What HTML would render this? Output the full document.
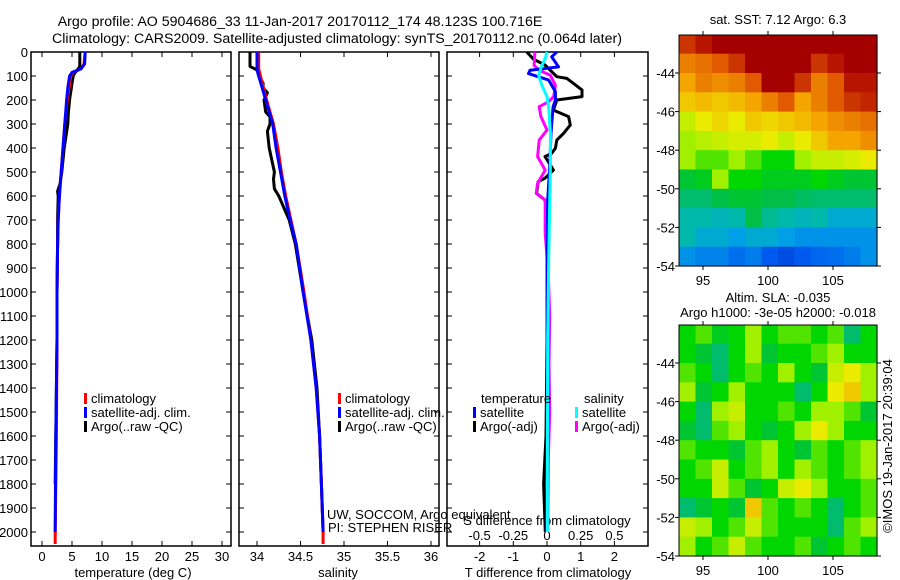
<!DOCTYPE html>
<html><head><meta charset="utf-8">
<style>
html,body{margin:0;padding:0;background:#fff;}
svg{display:block;font-family:"Liberation Sans",sans-serif;}
text{font-size:13px;fill:#000;}
.tt{font-size:14.2px;}
</style></head>
<body>
<svg id="fig" width="900" height="580" viewBox="0 0 900 580" xmlns="http://www.w3.org/2000/svg">
<text class="tt" x="300" y="26" text-anchor="middle">Argo profile: AO 5904686_33 11-Jan-2017 20170112_174 48.123S 100.716E</text>
<text class="tt" x="337" y="43" text-anchor="middle">Climatology: CARS2009. Satellite-adjusted climatology: synTS_20170112.nc (0.064d later)</text>
<g id="g"></g>
</svg>
<script>
// ---------- data ----------
const depthTicks=[0,100,200,300,400,500,600,700,800,900,1000,1100,1200,1300,1400,1500,1600,1700,1800,1900,2000];
const tempTicks=[0,5,10,15,20,25,30];
const salTicks=[34,34.5,35,35.5,36];
const tdiffTicks=[-2,-1,0,1,2];
const sdiffTicks=[-0.5,-0.25,0,0.25,0.5];
const sdiffLabels=["-0.5","-0.25","0","0.25","0.5"];

const tDepth=[0,50,70,85,100,150,200,300,400,500,600,700,800,1000,1200,1400,1600,1800,2000,2050];
const tClim=[7.2,7.0,6.5,5.2,4.8,4.5,4.2,3.8,3.5,3.2,2.9,2.7,2.6,2.5,2.5,2.45,2.4,2.3,2.2,2.2];
const tSat=[7.2,7.1,6.5,5.0,4.6,4.3,4.1,3.8,3.5,3.2,2.9,2.7,2.6,2.5,2.5,2.4,2.3,2.25,2.2,2.2];
const tArgoDepth=[0,60,75,90,100,130,150,180,200,250,300,350,400,450,500,550,580,600,700,800,1000,1200,1400,1600,1800,2000];
const tArgo=[6.3,6.3,5.9,5.4,5.2,5.0,4.9,4.7,4.6,4.4,4.3,4.0,3.7,3.5,3.3,3.0,2.6,2.7,2.6,2.6,2.5,2.5,2.4,2.3,2.2,2.2];

const sDepth=[0,70,100,200,300,400,500,600,700,800,1000,1200,1400,1600,1800,2000,2050];
const sClim=[34.02,34.02,34.04,34.11,34.19,34.24,34.28,34.33,34.39,34.45,34.54,34.62,34.68,34.72,34.74,34.76,34.76];
const sSat=[34.0,34.0,34.02,34.1,34.18,34.22,34.27,34.32,34.38,34.45,34.53,34.62,34.68,34.72,34.74,34.76,34.76];
const sArgoDepth=[0,60,75,100,130,150,170,200,250,270,300,330,400,450,500,530,570,600,650,700,800,1000,1200,1400,1600,1800,2000];
const sArgo=[33.92,33.92,34.0,34.02,34.07,34.07,34.12,34.08,34.1,34.15,34.15,34.12,34.14,34.17,34.2,34.19,34.2,34.25,34.31,34.37,34.44,34.53,34.63,34.69,34.72,34.74,34.76];

const dTSatDepth=[0,20,62,76,90,117,165,200,228,339,478,617,894,1200,1600,2000];
const dTSat=[0.29,0.14,0.34,-0.5,-0.55,0.05,0.25,0.25,0.18,0.12,0.08,0.02,0,0,0,-0.02];
const dTArgoDepth=[0,30,54,103,110,158,186,200,242,269,304,339,367,401,422,436,492,526,540,589,617,672,756,894,1200,1600,1800,2000];
const dTArgo=[-0.6,-0.4,-0.06,0.29,0.59,1.04,1.04,0.29,0.19,0.64,0.69,0.49,0.29,0.25,0.14,-0.06,0.19,-0.06,-0.26,-0.31,-0.06,0,0,0.02,0,-0.03,-0.1,-0.05];
const dSSatDepth=[0,28,56,97,139,186,228,339,478,617,894,1200,1600,2000];
const dSSat=[0,-0.013,-0.038,-0.062,-0.038,0,0.012,0.025,0.025,0.02,0.012,0.005,0.003,0.003];
const dSArgoDepth=[0,56,76,97,139,186,207,228,269,325,367,436,492,547,589,617,672,756,922,1100,1300,1500,1700,2000];
const dSArgo=[-0.09,-0.096,-0.058,0.025,0.062,0.05,0.012,-0.058,-0.045,0,-0.058,-0.07,-0.013,-0.07,-0.08,-0.013,-0.013,-0.013,0.01,0.02,0.015,0.02,0.01,0.005];

const lonTicks=[95,100,105];
const latTicks=[-44,-46,-48,-50,-52,-54];
const sstGrid=[
[.9,.95,1,1,1,1,1,1,1,1,1,1],
[.8,.82,.85,.9,1,1,1,1,.9,.95,1,1],
[.75,.8,.78,.8,.85,1,1,.9,.8,.85,.95,.95],
[.7,.72,.7,.72,.75,.8,.85,.75,.8,.85,.9,.92],
[.6,.65,.68,.65,.7,.68,.7,.72,.75,.78,.8,.82],
[.55,.58,.6,.62,.62,.65,.6,.65,.7,.75,.75,.78],
[.55,.5,.5,.55,.5,.45,.45,.55,.6,.6,.62,.65],
[.4,.42,.55,.45,.45,.42,.42,.42,.45,.42,.4,.4],
[.35,.35,.38,.4,.4,.38,.38,.36,.35,.35,.35,.35],
[.3,.3,.28,.3,.38,.32,.3,.28,.3,.25,.25,.25],
[.3,.25,.25,.22,.25,.25,.22,.2,.2,.2,.2,.2],
[.2,.18,.18,.15,.17,.12,.1,.12,.14,.15,.17,.2]];
const slaGrid=[
[.45,.5,.42,.45,.55,.45,.5,.5,.45,.5,.35,.45],
[.45,.4,.35,.45,.55,.4,.45,.45,.5,.55,.45,.45],
[.5,.45,.35,.45,.5,.45,.55,.45,.4,.6,.65,.55],
[.55,.4,.45,.55,.45,.45,.45,.35,.45,.65,.7,.55],
[.45,.35,.55,.6,.45,.45,.5,.45,.55,.55,.5,.4],
[.4,.35,.5,.55,.45,.4,.45,.55,.65,.55,.45,.45],
[.5,.45,.45,.4,.5,.55,.45,.4,.5,.45,.5,.55],
[.45,.5,.6,.45,.5,.55,.45,.55,.5,.45,.5,.55],
[.45,.45,.6,.5,.4,.45,.6,.65,.55,.45,.45,.5],
[.35,.4,.45,.4,.7,.5,.45,.5,.45,.35,.45,.5],
[.6,.55,.45,.5,.6,.5,.45,.45,.45,.35,.5,.55],
[.55,.45,.5,.6,.5,.45,.45,.5,.4,.45,.5,.45]];

// ---------- helpers ----------
const NS="http://www.w3.org/2000/svg";
const G=document.getElementById('g');
function mk(tag,attrs,parent,txt){const e=document.createElementNS(NS,tag);for(const k in attrs)e.setAttribute(k,attrs[k]);if(txt!==undefined)e.textContent=txt;(parent||G).appendChild(e);return e;}
const TOP=52,BOT=546;
const yD=d=>TOP+d*0.24;
const panels=[{x0:31,x1:231,n:'temperature'},{x0:239,x1:439,n:'salinity'},{x0:447,x1:648,n:'difference'}];
const xT=v=>42+v*6;
const xS=v=>257+(v-34)*87;
const xTd=v=>547+v*33.7;
const xSd=v=>547+v*134.8;

function panelFrame(p){
  const r=mk('rect',{x:p.x0,y:TOP,width:p.x1-p.x0,height:BOT-TOP,fill:'none',stroke:'#000','stroke-width':1.5});
  
  
  depthTicks.forEach(d=>{
    const t1=mk('line',{x1:p.x0,x2:p.x0+5,y1:yD(d),y2:yD(d),stroke:'#000'});
    
    
    const t2=mk('line',{x1:p.x1,x2:p.x1-5,y1:yD(d),y2:yD(d),stroke:'#000'});
    
    
  });
}
panels.forEach(panelFrame);
depthTicks.forEach(d=>{
  const t=mk('text',{x:28,y:yD(d)+5,'text-anchor':'end'},G,String(d));
  
  
});
function xAxis(ticks,labels,fx,ty,labelY){
  ticks.forEach((v,i)=>{
    const x=fx(v);
    const l=mk('line',{x1:x,x2:x,y1:ty,y2:ty-5,stroke:'#000'});
    
    
    const l2=mk('line',{x1:x,x2:x,y1:TOP,y2:TOP+5,stroke:'#000'});
    
    
    const t=mk('text',{x:x,y:labelY,'text-anchor':'middle'},G,labels[i]);
    
    
  });
}
xAxis(tempTicks,tempTicks.map(String),xT,BOT,561);
xAxis(salTicks,salTicks.map(String),xS,BOT,561);
xAxis(tdiffTicks,tdiffTicks.map(String),xTd,BOT,561);
sdiffTicks.forEach((v,i)=>{
  const t=mk('text',{x:xSd(v),y:540,'text-anchor':'middle'},G,sdiffLabels[i]);
  
  
});
[['temperature (deg C)',133,'temperature-axis-title'],['salinity',338,'salinity-axis-title'],['T difference from climatology',548,'t-diff-axis-title']].forEach(a=>{
  const t=mk('text',{x:a[1],y:577,'text-anchor':'middle'},G,a[0]);
  
  
});
const st=mk('text',{x:547,y:525,'text-anchor':'middle'},G,'S difference from climatology');



function line(depths,vals,fx,color,name,w){
  const pts=depths.map((d,i)=>fx(vals[i]).toFixed(1)+','+yD(d).toFixed(1)).join(' ');
  const e=mk('polyline',{points:pts,fill:'none',stroke:color,'stroke-width':w||3,'stroke-linejoin':'round'});
  
  
}
line(tArgoDepth.filter(d=>d<=1950),tArgo,xT,'#000','temp-argo-line',3);
line(tDepth,tClim,xT,'#f00','temp-climatology-line',3);
line(tDepth.slice(0,19),tSat,xT,'#00f','temp-satellite-line',3);
line(sArgoDepth,sArgo,xS,'#000','sal-argo-line',3);
line(sDepth,sClim,xS,'#f00','sal-climatology-line',3);
line(sDepth.slice(0,16),sSat,xS,'#00f','sal-satellite-line',3);
line(dTArgoDepth,dTArgo,xTd,'#000','tdiff-argo-line',3);
line(dSArgoDepth,dSArgo,xSd,'#f0f','sdiff-argo-line',3);
line(dTSatDepth,dTSat,xTd,'#00f','tdiff-satellite-line',3);
line(dSSatDepth,dSSat,xSd,'#0ff','sdiff-satellite-line',3);

function legendEntry(x,y,color,label){
  const r=mk('rect',{x:x,y:y-10,width:3,height:11,fill:color});
  
  
  const t=mk('text',{x:x+7,y:y},G,label);
  
  
}
[[84,'#f00','climatology',403],[84,'#00f','satellite-adj. clim.',417],[84,'#000','Argo(..raw -QC)',431],
 [338,'#f00','climatology',403],[338,'#00f','satellite-adj. clim.',417],[338,'#000','Argo(..raw -QC)',431],
 [473,'#00f','satellite',417],[473,'#000','Argo(-adj)',431],[575,'#0ff','satellite',417],[575,'#f0f','Argo(-adj)',431]
].forEach(a=>legendEntry(a[0],a[3],a[1],a[2]));
[['temperature',481],['salinity',584]].forEach(a=>{
  const t=mk('text',{x:a[1],y:403},G,a[0]);
  
  
});
const c1=mk('text',{x:327,y:519},G,'UW, SOCCOM, Argo equivalent');


const c2=mk('text',{x:328,y:532},G,'PI: STEPHEN RISER');



// ---------- maps ----------
const jet=[[0,[0,16,150]],[.12,[0,90,240]],[.22,[0,160,230]],[.3,[0,185,170]],[.38,[0,190,70]],[.45,[0,215,0]],[.55,[160,240,0]],[.65,[235,235,0]],[.75,[245,165,0]],[.85,[225,90,0]],[.93,[190,30,0]],[1,[165,0,0]]];
function cmap(v){for(let i=1;i<jet.length;i++){if(v<=jet[i][0]){const a=jet[i-1],b=jet[i],f=(v-a[0])/(b[0]-a[0]);return 'rgb('+a[1].map((c,k)=>Math.round(c+(b[1][k]-c)*f)).join(',')+')';}}return 'rgb(165,0,0)';}
function map(grid,x0,y0,x1,y1,name,lat44){
  const rows=grid.length,cols=grid[0].length,cw=(x1-x0)/cols;
  const degPx=(y1-lat44)/10, top=lat44-2*degPx;
  grid.forEach((row,r)=>row.forEach((v,c)=>{
    const yy=top+r*degPx, ys=Math.max(yy,y0);
    const e=mk('rect',{x:(x0+c*cw).toFixed(1),y:ys.toFixed(1),width:(cw+0.6).toFixed(1),height:(yy+degPx-ys+0.6).toFixed(1),fill:cmap(v)});
    
    
  }));
  const f=mk('rect',{x:x0,y:y0,width:x1-x0,height:y1-y0,fill:'none',stroke:'#000'});
  
  
  const lon=v=>768+(v-100)*13;
  lonTicks.forEach(v=>{
    const l=mk('line',{x1:lon(v),x2:lon(v),y1:y1,y2:y1+4,stroke:'#000'});
    
    
    const l2=mk('line',{x1:lon(v),x2:lon(v),y1:y0,y2:y0-4,stroke:'#000'});
    
    
    const t=mk('text',{x:lon(v),y:y1+19,'text-anchor':'middle'},G,String(v));
    
    
  });
  latTicks.forEach(v=>{
    const y=lat44+(-44-v)*degPx;
    const l=mk('line',{x1:x0,x2:x0-4,y1:y,y2:y,stroke:'#000'});
    
    
    const l2=mk('line',{x1:x1,x2:x1+4,y1:y,y2:y,stroke:'#000'});
    
    
    const t=mk('text',{x:x0-4,y:y+5,'text-anchor':'end'},G,String(v));
    
    
  });
}
map(sstGrid,679,35,877,266,'sst-map',73);
map(slaGrid,679,325,877,556,'sla-map',363);
[['sat. SST: 7.12  Argo: 6.3',778,24,'sst-map-title'],['Altim. SLA: -0.035',778,302,'sla-map-title'],['Argo h1000: -3e-05 h2000: -0.018',778,317,'sla-map-subtitle']].forEach(a=>{
  const t=mk('text',{x:a[1],y:a[2],'text-anchor':'middle'},G,a[0]);
  
  
});
const cp=mk('text',{x:0,y:0,'text-anchor':'middle',transform:'translate(892,446) rotate(-90)'},G,'©IMOS 19-Jan-2017 20:39:04');


</script>
</body></html>
